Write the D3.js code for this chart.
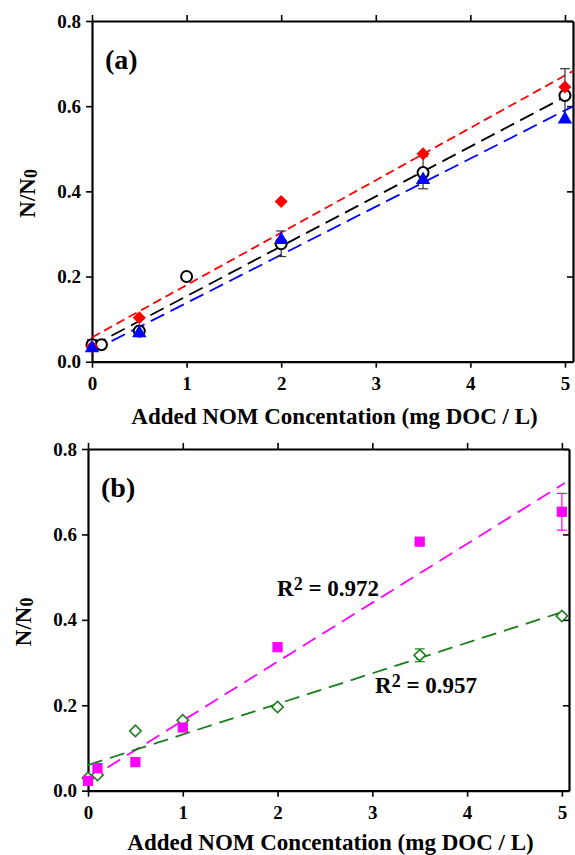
<!DOCTYPE html>
<html>
<head>
<meta charset="utf-8">
<script src="https://cdn.jsdelivr.net/npm/d3@7"></script>
<style>
  body { margin: 0; background: #fff; }
  svg text { font-family: "Liberation Serif", "Times New Roman", serif; font-weight: bold; }
</style>
</head>
<body>
<div id="chart"></div>
<script>
// 数据：面板 (a)
const xTicks = [0, 1, 2, 3, 4, 5];
const yTicks = [0, 0.2, 0.4, 0.6, 0.8];

const aBlackX = [0, 0.1, 0.5, 1, 2, 3.5, 5];
const aBlackY = [0.04, 0.04, 0.072, 0.2, 0.277, 0.444, 0.625];
const aBlackErr = [0.012, 0, 0, 0, 0.03, 0.038, 0.063];
const aRedX = [0, 0.5, 2, 3.5, 5];
const aRedY = [0.035, 0.103, 0.376, 0.488, 0.645];
const aBlueX = [0, 0.5, 2, 3.5, 5];
const aBlueY = [0.032, 0.067, 0.286, 0.427, 0.569];
// 拟合线 [截距, 斜率]
const aRedFit = [0.057, 0.123];
const aBlackFit = [0.037, 0.117];
const aBlueFit = [0.025, 0.113];

// 数据：面板 (b)
const bPinkX = [0, 0.1, 0.5, 1, 2, 3.5, 5];
const bPinkY = [0.023, 0.053, 0.067, 0.148, 0.336, 0.583, 0.653];
const bPinkErr = [0, 0, 0, 0, 0, 0, 0.043];
const bGreenX = [0, 0.1, 0.5, 1, 2, 3.5, 5];
const bGreenY = [0.03, 0.037, 0.14, 0.165, 0.196, 0.317, 0.409];
const bGreenErr = [0, 0, 0, 0, 0, 0.015, 0];
const bPinkFit = [0.026, 0.138];
const bGreenFit = [0.06, 0.0716];

const svg = d3.select("#chart").append("svg")
    .attr("width", 575).attr("height", 855);

function drawPanel(o) {
    const x = d3.scaleLinear().domain([0, o.xMax]).range([o.left, o.right]);
    const y = d3.scaleLinear().domain([0, 0.8]).range([o.bottom, o.top]);
    const g = svg.append("g");

    // 坐标轴
    g.append("g").attr("transform", `translate(0,${o.bottom})`)
        .call(d3.axisBottom(x).tickValues(xTicks).tickSize(6).tickSizeOuter(0).tickPadding(9).tickFormat(d3.format("d")));
    g.append("g").attr("transform", `translate(0,${o.top})`)
        .call(d3.axisTop(x).tickValues(xTicks).tickSize(6).tickSizeOuter(0).tickFormat(""));
    g.append("g").attr("transform", `translate(${o.left},0)`)
        .call(d3.axisLeft(y).tickValues(yTicks).tickSize(6).tickSizeOuter(0).tickPadding(5).tickFormat(d3.format(".1f")));
    g.append("g").attr("transform", `translate(${o.right},0)`)
        .call(d3.axisLeft(y).tickValues(yTicks).tickSize(6).tickSizeOuter(0).tickFormat(""));
    g.selectAll(".domain").attr("stroke-width", 2.2);
    g.selectAll(".tick line").attr("stroke-width", 1.6);
    g.selectAll(".tick text").attr("fill", "#000").style("font-size", "19px");

    // 拟合线
    o.fits.forEach(f => {
        g.append("line")
            .attr("x1", x(0)).attr("y1", y(f.fit[0]))
            .attr("x2", x(f.xEnd)).attr("y2", y(f.fit[0] + f.fit[1] * f.xEnd))
            .attr("stroke", f.color).attr("stroke-width", 1.8)
            .attr("stroke-dasharray", f.dash);
    });

    // 误差线
    o.series.filter(s => s.err).forEach(s => {
        s.xs.forEach((xv, i) => {
            const e = s.err[i];
            if (!e) return;
            const cx = x(xv);
            const eg = g.append("g").attr("stroke", s.errColor).attr("stroke-width", 1.2);
            eg.append("line").attr("x1", cx).attr("x2", cx).attr("y1", y(s.ys[i] - e)).attr("y2", y(s.ys[i] + e));
            [s.ys[i] - e, s.ys[i] + e].forEach(v => {
                eg.append("line").attr("x1", cx - 5).attr("x2", cx + 5).attr("y1", y(v)).attr("y2", y(v));
            });
        });
    });

    // 数据点
    o.series.forEach(s => {
        g.append("g").selectAll("path")
            .data(s.xs.map((xv, i) => [xv, s.ys[i]]))
            .join("path")
            .attr("transform", d => `translate(${x(d[0])},${y(d[1])})` + (s.rotate ? " rotate(45)" : ""))
            .attr("d", d3.symbol().type(s.type).size(s.size))
            .attr("fill", s.fill)
            .attr("stroke", s.stroke)
            .attr("stroke-width", s.sw);
    });

    // 面板标签
    g.append("text").attr("x", o.left + 13).attr("y", o.top + 48)
        .style("font-size", "28px").text(o.label);

    // 轴标题
    g.append("text").attr("x", (o.left + o.right) / 2 + 2).attr("y", o.bottom + o.titleGap)
        .attr("text-anchor", "middle").style("font-size", "23px")
        .text("Added NOM Concentation (mg DOC / L)");
    const yl = g.append("text")
        .attr("transform", `translate(${o.left - 57},${(o.top + o.bottom) / 2 + 2}) rotate(-90)`)
        .attr("text-anchor", "middle").style("font-size", "23px");
    yl.append("tspan").text("N/N");
    yl.append("tspan").style("font-size", "18px").attr("dy", 2).text("0");
    return {x, y, g};
}

drawPanel({
    left: 92, right: 573, top: 21, bottom: 361.7, xMax: 5.085, label: "(a)", titleGap: 62,
    fits: [
        {fit: aRedFit, xEnd: 5.085, color: "#ff0000", dash: "9,5"},
        {fit: aBlackFit, xEnd: 5.06, color: "#000", dash: "15,7"},
        {fit: aBlueFit, xEnd: 5.085, color: "#0000ff", dash: "15,7"}
    ],
    series: [
        {xs: aBlackX, ys: aBlackY, err: aBlackErr, errColor: "#333", type: d3.symbolCircle, size: 95, fill: "#fff", stroke: "#000", sw: 2},
        {xs: aRedX, ys: aRedY, type: d3.symbolSquare, size: 85, rotate: true, fill: "#ff0000", stroke: "#ff0000", sw: 0},
        {xs: aBlueX, ys: aBlueY, type: d3.symbolTriangle, size: 90, fill: "#0000ff", stroke: "#0000ff", sw: 0}
    ]
});

const b = drawPanel({
    left: 88, right: 569, top: 449, bottom: 790.7, xMax: 5.075, label: "(b)", titleGap: 59,
    fits: [
        {fit: bPinkFit, xEnd: 5.03, color: "#ff00ff", dash: "15,8"},
        {fit: bGreenFit, xEnd: 5.0, color: "#1a7f1a", dash: "15,8"}
    ],
    series: [
        {xs: bGreenX, ys: bGreenY, err: bGreenErr, errColor: "#1a7f1a", type: d3.symbolSquare, size: 65, rotate: true, fill: "#fff", stroke: "#1a7f1a", sw: 1.6},
        {xs: bPinkX, ys: bPinkY, err: bPinkErr, errColor: "#ff00ff", type: d3.symbolSquare, size: 105, fill: "#ff00ff", stroke: "#ff00ff", sw: 0}
    ]
});

// R² 标注
function r2(xp, yp, val) {
    const t = b.g.append("text").attr("x", xp).attr("y", yp).style("font-size", "23px");
    t.append("tspan").text("R");
    t.append("tspan").style("font-size", "18px").attr("dy", -6).text("2");
    t.append("tspan").attr("dy", 6).text(" = " + val);
}
r2(277, 596, "0.972");
r2(375, 693, "0.957");
</script>
</body>
</html>
